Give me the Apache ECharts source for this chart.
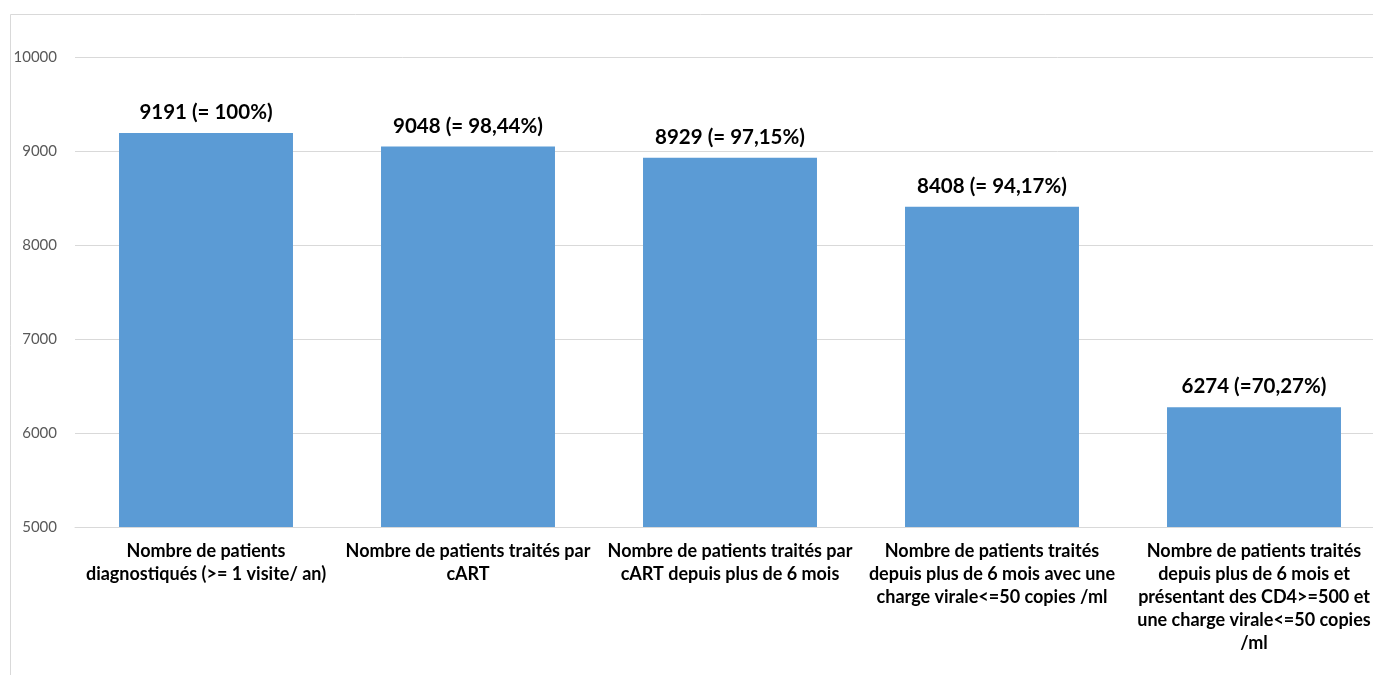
<!DOCTYPE html>
<html>
<head>
<meta charset="utf-8">
<script src="https://cdn.jsdelivr.net/npm/echarts@6/dist/echarts.min.js"></script>
<style>
  html, body { margin: 0; padding: 0; background: #ffffff; overflow: hidden; }
  /* the chart area runs slightly past the right edge of the window */
  #chart { width: 1390px; height: 675px; }
</style>
</head>
<body>
<div id="chart"></div>
<script>
// Cascade of HIV care: patient counts at each step
const categories = [
  'Nombre de patients\ndiagnostiqués (>= 1 visite/ an)',
  'Nombre de patients traités par\ncART',
  'Nombre de patients traités par\ncART depuis plus de 6 mois',
  'Nombre de patients traités\ndepuis plus de 6 mois avec une\ncharge virale<=50 copies /ml',
  'Nombre de patients traités\ndepuis plus de 6 mois et\nprésentant des CD4>=500 et\nune charge virale<=50 copies\n/ml'
];
const patients = [9191, 9048, 8929, 8408, 6274];
const percentLabels = ['(= 100%)', '(= 98,44%)', '(= 97,15%)', '(= 94,17%)', '(=70,27%)'];
const yTicks = [5000, 6000, 7000, 8000, 9000, 10000];

const chart = echarts.init(document.getElementById('chart'), null, { renderer: 'canvas' });

chart.setOption({
  animation: false,
  backgroundColor: '#ffffff',
  graphic: [{
    type: 'rect',
    shape: { x: 10.5, y: 14.5, width: 1400, height: 700 },
    style: { fill: 'none', stroke: '#d9d9d9', lineWidth: 1 },
    silent: true,
    z: 0
  }],
  grid: { left: 75, right: 5, top: 57, bottom: 148, containLabel: false },
  xAxis: {
    type: 'category',
    data: categories,
    axisLine: { show: true, lineStyle: { color: '#d9d9d9', width: 1 } },
    axisTick: { show: false },
    axisLabel: {
      interval: 0,
      margin: 13,
      color: '#000000',
      fontFamily: 'Lato',
      fontWeight: 'bold',
      fontSize: 18,
      lineHeight: 23,
      align: 'center'
    }
  },
  yAxis: {
    type: 'value',
    min: yTicks[0],
    max: yTicks[yTicks.length - 1],
    interval: 1000,
    axisLine: { show: false },
    axisTick: { show: false },
    splitLine: { lineStyle: { color: '#d9d9d9', width: 1 } },
    axisLabel: {
      margin: 18,
      color: '#595959',
      fontFamily: 'Lato',
      fontSize: 15,
      formatter: v => String(v)
    }
  },
  series: [{
    type: 'bar',
    data: patients,
    barWidth: '66.4%',
    itemStyle: { color: '#5b9bd5' },
    label: {
      show: true,
      position: 'top',
      distance: 10,
      color: '#000000',
      fontFamily: 'Lato',
      fontWeight: 'bold',
      fontSize: 20.5,
      formatter: p => p.value + ' ' + percentLabels[p.dataIndex]
    }
  }]
});
</script>
</body>
</html>
